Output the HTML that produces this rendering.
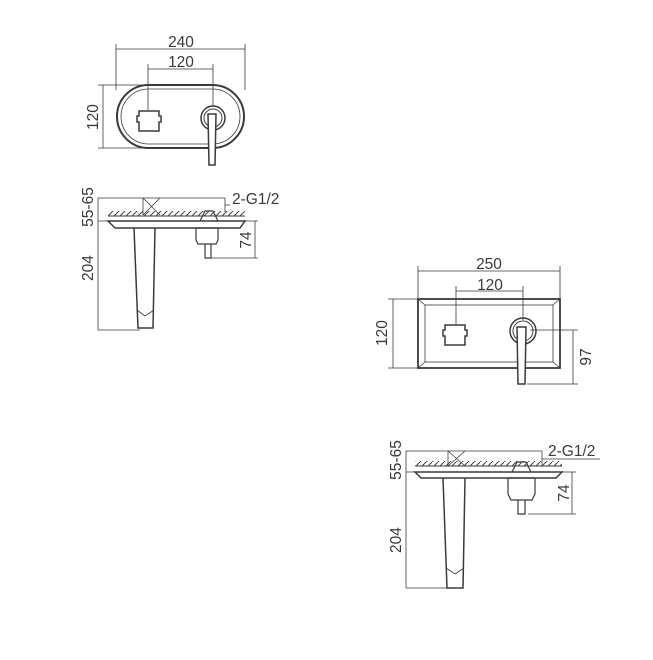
<!DOCTYPE html>
<html><head><style>html,body{margin:0;padding:0;background:#fff}svg{display:block}</style></head>
<body>
<svg width="653" height="660" viewBox="0 0 653 660" xmlns="http://www.w3.org/2000/svg" font-family="Liberation Sans, sans-serif" fill="none" stroke="#3a3a3a" stroke-width="1">
<defs>
<pattern id="h" width="6" height="6" patternUnits="userSpaceOnUse"><path d="M0 6 L6 0" stroke="#444" stroke-width="1"/></pattern>
</defs>
<g fill="#3a3a3a" stroke="none" font-size="15.5">
<text x="181" y="47" text-anchor="middle">240</text>
<text x="181" y="67" text-anchor="middle">120</text>
<text transform="translate(98,117) rotate(-90)" text-anchor="middle">120</text>
<text x="232" y="204">2-G1/2</text>
<text transform="translate(93,207) rotate(-90)" text-anchor="middle">55-65</text>
<text transform="translate(93,268) rotate(-90)" text-anchor="middle">204</text>
<text transform="translate(251,240) rotate(-90)" text-anchor="middle">74</text>
<text x="489" y="269" text-anchor="middle">250</text>
<text x="490" y="290" text-anchor="middle">120</text>
<text transform="translate(387,333) rotate(-90)" text-anchor="middle">120</text>
<text transform="translate(591,357) rotate(-90)" text-anchor="middle">97</text>
<text x="548" y="456">2-G1/2</text>
<text transform="translate(401,460) rotate(-90)" text-anchor="middle">55-65</text>
<text transform="translate(401,540) rotate(-90)" text-anchor="middle">204</text>
<text transform="translate(569,493) rotate(-90)" text-anchor="middle">74</text>
</g>
<!-- top-left plan -->
<g stroke-width="0.8">
<path d="M116 44V90M245 44V90M116 49H245M148 64V110M213 64V106M148 69H213M98 85H150M98 148H150M103 85V148"/>
</g>
<rect x="117" y="85" width="127" height="63" rx="31.5" stroke-width="2"/>
<rect x="121" y="89" width="119" height="55" rx="27.5" stroke-width="0.8"/>
<path d="M139 111h20v5h2v6h-2v9h-20v-9h-2v-6h2z" stroke-width="1.5"/>
<circle cx="213" cy="118" r="12" stroke-width="1.5"/>
<circle cx="213" cy="118" r="9"/>
<path d="M208 114 h8 l-1 51 h-6 z" fill="#fff" stroke-width="1.5"/>
<!-- top-left side -->
<g stroke-width="0.8">
<path d="M98 198H225V212M98 221H108M98 330H140M98 198V330M218 221H258M211 258H258M255 221V258M225 205H230"/>
</g>
<rect x="108" y="211" width="137" height="5" fill="url(#h)" stroke="none"/>
<path d="M108 216H245" stroke-width="1"/>
<path d="M108 221H245L240 228H115Z" stroke-width="1.5"/>
<path d="M143 198L160 215M160 198L143 215M143 198V215" stroke-width="0.8"/>
<path d="M134 228L138 328H153L155 228" stroke-width="1.5"/>
<path d="M137 310L145 316L154 310" stroke-width="0.8"/>
<path d="M200 221L205 211H213L218 221M196 228H218V240L216 244H198L196 240ZM205 244V258H211V244" stroke-width="1.2"/>
<!-- right plan -->
<g stroke-width="0.8">
<path d="M418 266V300M560 266V300M418 271H560M456 286V325M523 286V320M456 291H523M388 299H420M388 368H420M393 299V368M530 330H578M527 384H578M573 330V384"/>
</g>
<rect x="418" y="299" width="142" height="69" stroke-width="1.8"/>
<rect x="425" y="305" width="128" height="57" stroke-width="0.8"/>
<path d="M418 299L425 305M560 299L553 305M418 368L425 362M560 368L553 362" stroke-width="0.8"/>
<path d="M445 325h20v5h2v6h-2v9h-20v-9h-2v-6h2z" stroke-width="1.5"/>
<circle cx="523" cy="331" r="13" stroke-width="1.5"/>
<circle cx="523" cy="331" r="10"/>
<path d="M517 327 h9 l-1 57 h-7 z" fill="#fff" stroke-width="1.5"/>
<!-- right side -->
<g stroke-width="0.8">
<path d="M406 451H542V466M406 472H415M406 588H448M406 451V588M535 472H576M528 514H576M572 472V514M542 459H600"/>
</g>
<rect x="415" y="461" width="147" height="5" fill="url(#h)" stroke="none"/>
<path d="M415 466H562" stroke-width="1"/>
<path d="M415 472H562L556 478H421Z" stroke-width="1.5"/>
<path d="M448 451L465 466M465 451L448 466M448 451V466" stroke-width="0.8"/>
<path d="M443 478L447 588H463L465 478" stroke-width="1.5"/>
<path d="M446 568L455 574L464 568" stroke-width="0.8"/>
<path d="M512 472L517 462H526L531 472M508 478H535V494L532 500H511L508 494ZM518 500V514H525V500" stroke-width="1.2"/>
</svg>
</body></html>
